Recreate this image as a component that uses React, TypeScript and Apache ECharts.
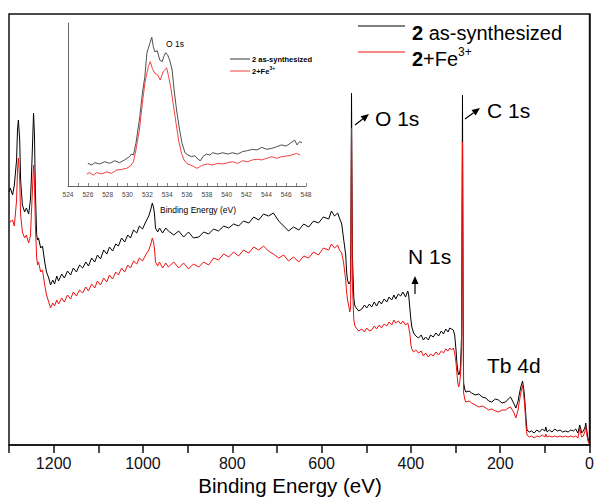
import React, { useEffect, useRef } from 'react';
import * as echarts from 'echarts';

// ---- Main survey spectrum (binding energy, eV) ----
const energy = [
  1300, 1297, 1292, 1288, 1283, 1281, 1279, 1276, 1274, 1270,
  1265, 1261, 1256, 1252, 1250, 1247, 1245, 1243, 1241, 1238,
  1236, 1234, 1229, 1225, 1220, 1216, 1211, 1207, 1202, 1198,
  1193, 1189, 1182, 1176, 1169, 1162, 1156, 1149, 1142, 1135,
  1128, 1122, 1115, 1108, 1102, 1095, 1088, 1081, 1075, 1068,
  1061, 1055, 1048, 1041, 1034, 1028, 1021, 1014, 1008, 1001,
  994, 987, 983, 979, 976, 974, 972, 967, 963, 956,
  949, 943, 931, 920, 909, 898, 887, 875, 864, 853,
  842, 831, 819, 808, 797, 786, 775, 763, 752, 741,
  730, 719, 708, 696, 685, 674, 663, 651, 640, 629,
  618, 607, 596, 584, 578, 571, 564, 560, 555, 551,
  546, 544, 542, 539, 537, 535, 533, 531, 528, 526,
  524, 517, 510, 504, 499, 493, 488, 482, 477, 471,
  466, 460, 454, 449, 443, 438, 434, 428, 423, 418,
  412, 407, 405, 402, 400, 398, 394, 389, 383, 377,
  372, 367, 361, 356, 350, 344, 338, 332, 327, 322,
  317, 313, 309, 305, 302, 299, 297, 295, 293, 291,
  289, 286.5, 284.5, 283, 282, 279, 277, 270, 264, 256,
  248, 240, 232, 226, 219, 211, 204, 196, 188, 182,
  177, 170, 165, 160, 158.5, 154, 150, 147, 145, 142,
  140, 135, 130, 124, 118, 112, 106, 100, 98, 95,
  90, 84, 78, 72, 66, 60, 54, 48, 42, 36,
  31, 26, 22, 19, 17.5, 14, 10, 8.5, 6, 4,
  2, 0,
];

const asSynthesized = [
  253, 257, 250, 260, 285, 315, 325, 305, 265, 240,
  233, 237, 231, 245, 265, 305, 332, 310, 255, 210,
  205, 207, 197, 199, 183, 173, 167, 160, 165, 161,
  169, 164, 171, 167, 174, 170, 177, 173, 180, 177,
  183, 179, 187, 183, 190, 186, 195, 191, 198, 194,
  201, 199, 207, 203, 210, 207, 215, 212, 219, 216,
  223, 229, 235, 242, 237, 230, 217, 213, 217, 212,
  217, 214, 210, 214, 208, 213, 207, 208, 213, 211,
  216, 214, 219, 217, 221, 219, 224, 222, 228, 225,
  231, 229, 232, 224, 219, 214, 218, 215, 221, 218,
  224, 222, 228, 226, 234, 229, 232, 227, 221, 207,
  190, 173, 165, 161, 162, 165, 352, 190, 148, 140,
  138, 134, 136, 140, 137, 141, 138, 143, 139, 144,
  141, 146, 143, 148, 145, 150, 146, 151, 149, 153,
  148, 154, 150, 135, 125, 118, 112, 109, 107, 110,
  105, 108, 105, 110, 108, 112, 109, 114, 111, 116,
  113, 117, 116, 115, 110, 95, 82, 74, 70, 72,
  78, 110, 350, 130, 62, 55, 53, 54, 52, 50,
  51, 48, 47, 44, 43, 46, 45, 42, 43, 46,
  48, 42, 37, 44, 48, 58, 64, 55, 45, 25,
  15, 13, 14, 12, 15, 13, 16, 14, 18, 13,
  15, 13, 16, 14, 15, 13, 14, 13, 15, 14,
  16, 12, 20, 15, 12, 14, 18, 22, 14, 8,
  4, 2,
];

const withFe3 = [
  227, 223, 225, 219, 245, 275, 287, 265, 230, 213,
  207, 210, 202, 209, 230, 260, 280, 265, 220, 187,
  180, 183, 173, 175, 160, 150, 143, 137, 142, 139,
  145, 141, 147, 143, 150, 146, 153, 149, 155, 152,
  158, 154, 161, 157, 164, 160, 167, 163, 170, 166,
  173, 170, 177, 173, 180, 177, 184, 181, 187, 184,
  190, 195, 200, 207, 202, 195, 183, 179, 183, 177,
  182, 178, 183, 177, 182, 176, 181, 178, 183, 180,
  187, 185, 191, 188, 193, 189, 195, 192, 198, 195,
  199, 194, 191, 187, 190, 184, 188, 183, 189, 187,
  193, 190, 197, 195, 201, 197, 200, 195, 192, 183,
  165, 153, 145, 139, 133, 137, 317, 160, 126, 120,
  118, 114, 116, 113, 117, 114, 115, 119, 116, 120,
  117, 121, 119, 123, 120, 125, 122, 124, 121, 124,
  120, 122, 118, 110, 100, 96, 93, 95, 92, 94,
  89, 92, 88, 91, 89, 93, 90, 94, 92, 96,
  94, 97, 95, 97, 92, 82, 72, 62, 58, 62,
  70, 95, 303, 110, 52, 45, 43, 44, 42, 40,
  38, 39, 37, 35, 36, 34, 33, 35, 35, 37,
  38, 33, 27, 35, 40, 52, 60, 48, 38, 18,
  10, 8, 9, 7, 9, 8, 10, 8, 11, 8,
  9, 8, 9, 8, 9, 8, 9, 8, 9, 8,
  9, 7, 17, 10, 8, 9, 14, 19, 10, 5,
  2, 1,
];

const xTickLabels = [0, 200, 400, 600, 800, 1000, 1200];

// ---- Inset: O 1s region ----
const insetEnergyA = [
  526.0, 526.4, 526.7, 527.2, 527.7, 528.2, 528.7, 529.2, 529.7, 530.2,
  530.4, 530.6, 530.85, 531.2, 531.5, 531.75, 531.95, 532.1, 532.25, 532.45,
  532.6, 532.75, 533.0, 533.25, 533.5, 533.65, 533.85, 534.05, 534.25, 534.5,
  534.7, 534.95, 535.25, 535.5, 535.8, 536.1, 536.45, 536.8, 537.1, 537.35,
  537.6, 537.95, 538.3, 538.6, 539.1, 539.6, 540.1, 540.6, 541.1, 541.6,
  542.1, 542.6, 543.05, 543.55, 544.05, 544.55, 545.05, 545.5, 546.0, 546.5,
  546.85, 547.1, 547.35, 547.6,
];
const insetAsSynthesized = [
  13.9, 12.9, 14.3, 13.5, 14.9, 13.9, 15.5, 14.3, 16.0, 18.0,
  19.6, 19.0, 26.2, 40.5, 56.9, 67.1, 81.4, 84.5, 87.5, 91.2,
  85.5, 82.4, 83.0, 77.3, 76.3, 79.3, 81.8, 80.4, 77.3, 71.2,
  58.9, 46.6, 34.4, 26.2, 20.4, 19.0, 18.0, 18.6, 16.4, 15.5,
  18.0, 19.6, 19.0, 20.4, 19.6, 20.4, 19.6, 20.4, 19.6, 21.1,
  21.7, 22.5, 22.1, 23.7, 22.5, 23.1, 24.1, 25.2, 24.5, 26.6,
  28.2, 25.2, 27.2, 26.6,
];
const insetEnergyB = [
  525.9, 526.2, 526.55, 526.9, 527.4, 527.9, 528.4, 528.9, 529.4, 529.9,
  530.3, 530.6, 530.85, 531.2, 531.5, 531.75, 531.95, 532.1, 532.3, 532.5,
  532.75, 533.05, 533.3, 533.6, 533.8, 533.95, 534.15, 534.35, 534.6, 534.9,
  535.15, 535.45, 535.7, 536.05, 536.35, 536.7, 537.0, 537.3, 537.6, 538.1,
  538.6, 539.1, 539.6, 540.1, 540.6, 541.1, 541.6, 542.1, 542.6, 543.1,
  543.55, 544.05, 544.55, 545.05, 545.55, 546.05, 546.55, 547.05, 547.4,
];
const insetWithFe3 = [
  7.4, 8.2, 6.7, 8.2, 7.4, 8.6, 7.8, 9.8, 10.2, 10.8,
  12.3, 14.9, 22.1, 34.4, 50.7, 63.0, 69.1, 73.2, 76.3, 72.2,
  69.1, 68.1, 65.0, 70.1, 71.6, 72.5, 67.1, 60.9, 50.7, 38.4,
  28.2, 20.0, 16.0, 13.5, 12.9, 11.9, 10.8, 11.9, 12.9, 13.5,
  12.9, 13.9, 13.5, 14.3, 14.9, 13.9, 15.5, 14.9, 16.0, 16.4,
  16.0, 17.0, 18.0, 17.0, 18.0, 18.4, 19.0, 20.0, 19.0,
];
const insetTickLabels = [524, 526, 528, 530, 532, 534, 536, 538, 540, 542, 544, 546, 548];

const BLACK = '#000000';
const RED = '#ee1111';
const FONT = 'Liberation Sans, Arial, sans-serif';

function arrow(x1: number, y1: number, x2: number, y2: number, head = 8, half = 3.5): any[] {
  const dx = x2 - x1;
  const dy = y2 - y1;
  const L = Math.hypot(dx, dy);
  const ux = dx / L;
  const uy = dy / L;
  const bx = x2 - ux * head;
  const by = y2 - uy * head;
  return [
    { type: 'line', silent: true, shape: { x1, y1, x2: bx, y2: by }, style: { stroke: '#000', lineWidth: 1.2 } },
    {
      type: 'polygon', silent: true,
      shape: { points: [[x2, y2], [bx - uy * half, by + ux * half], [bx + uy * half, by - ux * half]] },
      style: { fill: '#000' },
    },
  ];
}

function txt(x: number, y: number, text: string, fontSize: number, extra: any = {}, rich?: any): any {
  return {
    type: 'text', silent: true, x, y,
    style: {
      text, fontSize, fontFamily: FONT, fill: '#000',
      align: 'left', verticalAlign: 'middle', ...(rich ? { rich } : {}), ...extra,
    },
  };
}

export default function App() {
  const ref = useRef<HTMLDivElement>(null);

  useEffect(() => {
    if (!ref.current) return;
    const chart = echarts.init(ref.current, undefined, { renderer: 'svg' });

    const mainA = energy.map((e, i) => [e, asSynthesized[i]]);
    const mainB = energy.map((e, i) => [e, withFe3[i]]);
    const insA = insetEnergyA.map((e, i) => [e, insetAsSynthesized[i]]);
    const insB = insetEnergyB.map((e, i) => [e, insetWithFe3[i]]);

    const graphic: any[] = [
      // main x-axis title
      txt(290, 485, 'Binding Energy (eV)', 20.5, { align: 'center' }),
      // main legend
      { type: 'line', silent: true, shape: { x1: 358, y1: 26, x2: 405, y2: 26 }, style: { stroke: BLACK, lineWidth: 1 } },
      txt(412, 33, '{b|2} as-synthesized', 20, {}, { b: { fontWeight: 'bold', fontSize: 20, fontFamily: FONT } }),
      { type: 'line', silent: true, shape: { x1: 358, y1: 52, x2: 405, y2: 52 }, style: { stroke: RED, lineWidth: 1 } },
      txt(412, 59, '{b|2}+Fe', 20, {}, { b: { fontWeight: 'bold', fontSize: 20, fontFamily: FONT } }),
      txt(458, 52, '3+', 12),
      // peak labels
      txt(375, 118.5, 'O 1s', 21),
      txt(487, 110.5, 'C 1s', 21),
      txt(408, 256.5, 'N 1s', 21),
      txt(487, 365, 'Tb 4d', 21),
      ...arrow(355, 125, 369, 114),
      ...arrow(465, 119, 480, 108),
      ...arrow(415, 294, 415, 276),
      // inset texts
      txt(175, 44, 'O 1s', 8.5, { align: 'center' }),
      txt(198, 210, 'Binding Energy (eV)', 8.5, { align: 'center' }),
      { type: 'line', silent: true, shape: { x1: 230, y1: 59, x2: 250, y2: 59 }, style: { stroke: BLACK, lineWidth: 0.8 } },
      txt(252, 59, '2 as-synthesized', 7.5, { fontWeight: 'bold' }),
      { type: 'line', silent: true, shape: { x1: 230, y1: 71, x2: 250, y2: 71 }, style: { stroke: RED, lineWidth: 0.8 } },
      txt(252, 71, '2+Fe', 7.5, { fontWeight: 'bold' }),
      txt(269.5, 68, '3+', 5, { fontWeight: 'bold' }),
    ];

    chart.setOption({
      animation: false,
      backgroundColor: '#ffffff',
      grid: [
        { left: 9, right: 5, top: 14, bottom: 52, show: true, borderColor: '#111', borderWidth: 1.5, backgroundColor: 'transparent' },
        { left: 68, top: 23, width: 238, height: 163, show: false },
      ],
      xAxis: [
        {
          type: 'value', gridIndex: 0, min: 0, max: 1300, interval: 100, inverse: true,
          axisLine: { show: true, onZero: false, lineStyle: { color: '#111', width: 1.5 } },
          axisTick: { show: true, inside: false, length: 8, lineStyle: { color: '#111', width: 1.5 } },
          axisLabel: {
            margin: 10, fontSize: 16, color: '#111', fontFamily: FONT,
            formatter: (v: number) => (xTickLabels.includes(v) ? String(v) : ''),
          },
          splitLine: { show: false },
        },
        {
          type: 'value', gridIndex: 1, min: 524, max: 548, interval: 1,
          axisLine: { show: true, onZero: false, lineStyle: { color: '#666', width: 1 } },
          axisTick: { show: true, inside: true, length: 3, lineStyle: { color: '#666', width: 0.8 } },
          axisLabel: {
            margin: 5, fontSize: 6.5, color: '#444', fontFamily: FONT,
            formatter: (v: number) => (insetTickLabels.includes(v) ? String(v) : ''),
          },
          splitLine: { show: false },
        },
      ],
      yAxis: [
        {
          type: 'value', gridIndex: 0, min: 0, max: 431,
          axisLine: { show: true, lineStyle: { color: '#111', width: 1.5 } },
          axisTick: { show: false }, axisLabel: { show: false }, splitLine: { show: false },
        },
        {
          type: 'value', gridIndex: 1, min: 0, max: 100,
          axisLine: { show: true, lineStyle: { color: '#666', width: 1 } },
          axisTick: { show: false }, axisLabel: { show: false }, splitLine: { show: false },
        },
      ],
      series: [
        { type: 'line', name: '2 as-synthesized', xAxisIndex: 0, yAxisIndex: 0, data: mainA, showSymbol: false, symbol: 'none', silent: true, lineStyle: { color: BLACK, width: 1 } },
        { type: 'line', name: '2+Fe3+', xAxisIndex: 0, yAxisIndex: 0, data: mainB, showSymbol: false, symbol: 'none', silent: true, lineStyle: { color: RED, width: 1 } },
        { type: 'line', name: 'inset as-synthesized', xAxisIndex: 1, yAxisIndex: 1, data: insA, showSymbol: false, symbol: 'none', silent: true, lineStyle: { color: '#222', width: 0.8 } },
        { type: 'line', name: 'inset Fe3+', xAxisIndex: 1, yAxisIndex: 1, data: insB, showSymbol: false, symbol: 'none', silent: true, lineStyle: { color: RED, width: 0.8 } },
      ],
      graphic,
    });

    return () => chart.dispose();
  }, []);

  return (
    <div
      ref={ref}
      style={{ position: 'fixed', left: 0, top: 0, width: 597, height: 497, background: '#fff' }}
    />
  );
}
